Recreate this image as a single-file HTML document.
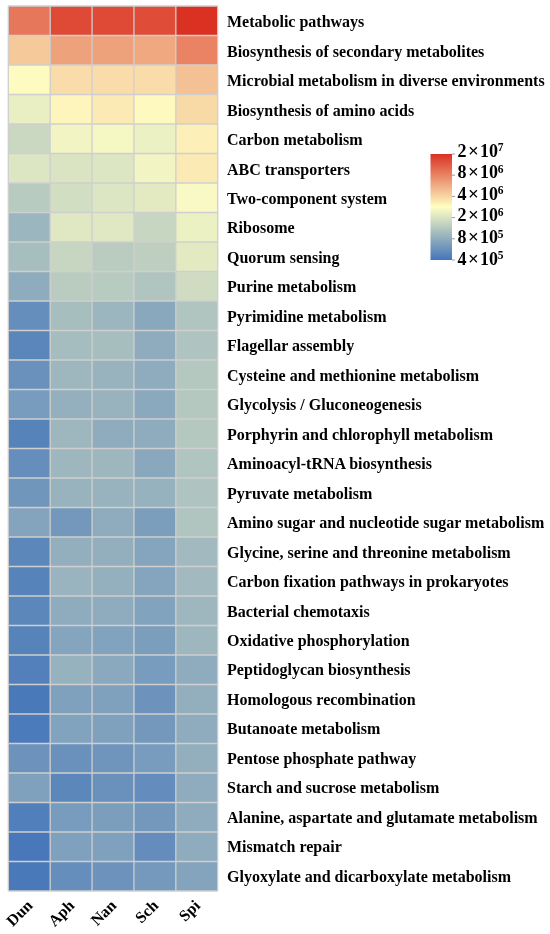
<!DOCTYPE html>
<html><head><meta charset="utf-8"><style>
html,body{margin:0;padding:0;background:#fff;width:550px;height:934px;overflow:hidden}
svg{display:block;will-change:transform}
</style></head><body>
<svg width="550" height="934" viewBox="0 0 550 934">
<g shape-rendering="crispEdges"><rect x="8.30" y="6.00" width="41.88" height="29.50" fill="#e7775a"/><rect x="50.18" y="6.00" width="41.88" height="29.50" fill="#de4a36"/><rect x="92.06" y="6.00" width="41.88" height="29.50" fill="#de4a36"/><rect x="133.94" y="6.00" width="41.88" height="29.50" fill="#df4c38"/><rect x="175.82" y="6.00" width="41.88" height="29.50" fill="#da3123"/><rect x="8.30" y="35.50" width="41.88" height="29.50" fill="#f5c99a"/><rect x="50.18" y="35.50" width="41.88" height="29.50" fill="#eea27c"/><rect x="92.06" y="35.50" width="41.88" height="29.50" fill="#eea27c"/><rect x="133.94" y="35.50" width="41.88" height="29.50" fill="#efa880"/><rect x="175.82" y="35.50" width="41.88" height="29.50" fill="#e98363"/><rect x="8.30" y="65.00" width="41.88" height="29.50" fill="#fefbc1"/><rect x="50.18" y="65.00" width="41.88" height="29.50" fill="#f9dca9"/><rect x="92.06" y="65.00" width="41.88" height="29.50" fill="#f9dca9"/><rect x="133.94" y="65.00" width="41.88" height="29.50" fill="#f9dca9"/><rect x="175.82" y="65.00" width="41.88" height="29.50" fill="#f4c194"/><rect x="8.30" y="94.50" width="41.88" height="29.50" fill="#e9eec3"/><rect x="50.18" y="94.50" width="41.88" height="29.50" fill="#fdf5bc"/><rect x="92.06" y="94.50" width="41.88" height="29.50" fill="#fbeab4"/><rect x="133.94" y="94.50" width="41.88" height="29.50" fill="#fef9bf"/><rect x="175.82" y="94.50" width="41.88" height="29.50" fill="#f8daa7"/><rect x="8.30" y="124.00" width="41.88" height="29.50" fill="#cbd8c1"/><rect x="50.18" y="124.00" width="41.88" height="29.50" fill="#f2f5c3"/><rect x="92.06" y="124.00" width="41.88" height="29.50" fill="#f6f8c4"/><rect x="133.94" y="124.00" width="41.88" height="29.50" fill="#ecf1c3"/><rect x="175.82" y="124.00" width="41.88" height="29.50" fill="#fcefb7"/><rect x="8.30" y="153.50" width="41.88" height="29.50" fill="#dde6c2"/><rect x="50.18" y="153.50" width="41.88" height="29.50" fill="#dae3c2"/><rect x="92.06" y="153.50" width="41.88" height="29.50" fill="#dde6c2"/><rect x="133.94" y="153.50" width="41.88" height="29.50" fill="#f2f5c3"/><rect x="175.82" y="153.50" width="41.88" height="29.50" fill="#fbeab4"/><rect x="8.30" y="183.00" width="41.88" height="29.50" fill="#b8cbc0"/><rect x="50.18" y="183.00" width="41.88" height="29.50" fill="#d2dec2"/><rect x="92.06" y="183.00" width="41.88" height="29.50" fill="#dde6c2"/><rect x="133.94" y="183.00" width="41.88" height="29.50" fill="#e3eac2"/><rect x="175.82" y="183.00" width="41.88" height="29.50" fill="#f8f9c4"/><rect x="8.30" y="212.50" width="41.88" height="29.50" fill="#9cb6bf"/><rect x="50.18" y="212.50" width="41.88" height="29.50" fill="#dfe8c2"/><rect x="92.06" y="212.50" width="41.88" height="29.50" fill="#dfe8c2"/><rect x="133.94" y="212.50" width="41.88" height="29.50" fill="#c7d6c1"/><rect x="175.82" y="212.50" width="41.88" height="29.50" fill="#ecf1c3"/><rect x="8.30" y="242.00" width="41.88" height="29.50" fill="#a7bebf"/><rect x="50.18" y="242.00" width="41.88" height="29.50" fill="#c7d6c1"/><rect x="92.06" y="242.00" width="41.88" height="29.50" fill="#baccc0"/><rect x="133.94" y="242.00" width="41.88" height="29.50" fill="#becfc0"/><rect x="175.82" y="242.00" width="41.88" height="29.50" fill="#e3eac2"/><rect x="8.30" y="271.50" width="41.88" height="29.50" fill="#8facbe"/><rect x="50.18" y="271.50" width="41.88" height="29.50" fill="#baccc0"/><rect x="92.06" y="271.50" width="41.88" height="29.50" fill="#b8cbc0"/><rect x="133.94" y="271.50" width="41.88" height="29.50" fill="#b0c5c0"/><rect x="175.82" y="271.50" width="41.88" height="29.50" fill="#d0dcc2"/><rect x="8.30" y="301.00" width="41.88" height="29.50" fill="#668ebc"/><rect x="50.18" y="301.00" width="41.88" height="29.50" fill="#a7bebf"/><rect x="92.06" y="301.00" width="41.88" height="29.50" fill="#9cb6bf"/><rect x="133.94" y="301.00" width="41.88" height="29.50" fill="#89a8be"/><rect x="175.82" y="301.00" width="41.88" height="29.50" fill="#b0c5c0"/><rect x="8.30" y="330.50" width="41.88" height="29.50" fill="#5a86bb"/><rect x="50.18" y="330.50" width="41.88" height="29.50" fill="#a5bdbf"/><rect x="92.06" y="330.50" width="41.88" height="29.50" fill="#a7bebf"/><rect x="133.94" y="330.50" width="41.88" height="29.50" fill="#8facbe"/><rect x="175.82" y="330.50" width="41.88" height="29.50" fill="#afc4c0"/><rect x="8.30" y="360.00" width="41.88" height="29.50" fill="#6991bc"/><rect x="50.18" y="360.00" width="41.88" height="29.50" fill="#9eb7bf"/><rect x="92.06" y="360.00" width="41.88" height="29.50" fill="#98b3be"/><rect x="133.94" y="360.00" width="41.88" height="29.50" fill="#8facbe"/><rect x="175.82" y="360.00" width="41.88" height="29.50" fill="#b4c8c0"/><rect x="8.30" y="389.50" width="41.88" height="29.50" fill="#789cbd"/><rect x="50.18" y="389.50" width="41.88" height="29.50" fill="#94b0be"/><rect x="92.06" y="389.50" width="41.88" height="29.50" fill="#98b3be"/><rect x="133.94" y="389.50" width="41.88" height="29.50" fill="#8ba9be"/><rect x="175.82" y="389.50" width="41.88" height="29.50" fill="#b4c8c0"/><rect x="8.30" y="419.00" width="41.88" height="29.50" fill="#5783bb"/><rect x="50.18" y="419.00" width="41.88" height="29.50" fill="#9eb7bf"/><rect x="92.06" y="419.00" width="41.88" height="29.50" fill="#8facbe"/><rect x="133.94" y="419.00" width="41.88" height="29.50" fill="#8facbe"/><rect x="175.82" y="419.00" width="41.88" height="29.50" fill="#b4c8c0"/><rect x="8.30" y="448.50" width="41.88" height="29.50" fill="#668ebc"/><rect x="50.18" y="448.50" width="41.88" height="29.50" fill="#9eb7bf"/><rect x="92.06" y="448.50" width="41.88" height="29.50" fill="#9eb7bf"/><rect x="133.94" y="448.50" width="41.88" height="29.50" fill="#89a8be"/><rect x="175.82" y="448.50" width="41.88" height="29.50" fill="#b0c5c0"/><rect x="8.30" y="478.00" width="41.88" height="29.50" fill="#7196bc"/><rect x="50.18" y="478.00" width="41.88" height="29.50" fill="#98b3be"/><rect x="92.06" y="478.00" width="41.88" height="29.50" fill="#98b3be"/><rect x="133.94" y="478.00" width="41.88" height="29.50" fill="#96b2be"/><rect x="175.82" y="478.00" width="41.88" height="29.50" fill="#afc4c0"/><rect x="8.30" y="507.50" width="41.88" height="29.50" fill="#84a4bd"/><rect x="50.18" y="507.50" width="41.88" height="29.50" fill="#7398bc"/><rect x="92.06" y="507.50" width="41.88" height="29.50" fill="#8facbe"/><rect x="133.94" y="507.50" width="41.88" height="29.50" fill="#7c9ebd"/><rect x="175.82" y="507.50" width="41.88" height="29.50" fill="#b0c5c0"/><rect x="8.30" y="537.00" width="41.88" height="29.50" fill="#5c87bb"/><rect x="50.18" y="537.00" width="41.88" height="29.50" fill="#93afbe"/><rect x="92.06" y="537.00" width="41.88" height="29.50" fill="#93afbe"/><rect x="133.94" y="537.00" width="41.88" height="29.50" fill="#85a5be"/><rect x="175.82" y="537.00" width="41.88" height="29.50" fill="#a2babf"/><rect x="8.30" y="566.50" width="41.88" height="29.50" fill="#5783bb"/><rect x="50.18" y="566.50" width="41.88" height="29.50" fill="#9ab4bf"/><rect x="92.06" y="566.50" width="41.88" height="29.50" fill="#94b0be"/><rect x="133.94" y="566.50" width="41.88" height="29.50" fill="#85a5be"/><rect x="175.82" y="566.50" width="41.88" height="29.50" fill="#a2babf"/><rect x="8.30" y="596.00" width="41.88" height="29.50" fill="#5c87bb"/><rect x="50.18" y="596.00" width="41.88" height="29.50" fill="#8facbe"/><rect x="92.06" y="596.00" width="41.88" height="29.50" fill="#8facbe"/><rect x="133.94" y="596.00" width="41.88" height="29.50" fill="#82a3bd"/><rect x="175.82" y="596.00" width="41.88" height="29.50" fill="#9eb7bf"/><rect x="8.30" y="625.50" width="41.88" height="29.50" fill="#5783bb"/><rect x="50.18" y="625.50" width="41.88" height="29.50" fill="#85a5be"/><rect x="92.06" y="625.50" width="41.88" height="29.50" fill="#82a3bd"/><rect x="133.94" y="625.50" width="41.88" height="29.50" fill="#7c9ebd"/><rect x="175.82" y="625.50" width="41.88" height="29.50" fill="#9eb7bf"/><rect x="8.30" y="655.00" width="41.88" height="29.50" fill="#5380bb"/><rect x="50.18" y="655.00" width="41.88" height="29.50" fill="#96b2be"/><rect x="92.06" y="655.00" width="41.88" height="29.50" fill="#8ba9be"/><rect x="133.94" y="655.00" width="41.88" height="29.50" fill="#789cbd"/><rect x="175.82" y="655.00" width="41.88" height="29.50" fill="#8facbe"/><rect x="8.30" y="684.50" width="41.88" height="29.50" fill="#4a79ba"/><rect x="50.18" y="684.50" width="41.88" height="29.50" fill="#80a1bd"/><rect x="92.06" y="684.50" width="41.88" height="29.50" fill="#80a1bd"/><rect x="133.94" y="684.50" width="41.88" height="29.50" fill="#6d93bc"/><rect x="175.82" y="684.50" width="41.88" height="29.50" fill="#93afbe"/><rect x="8.30" y="714.00" width="41.88" height="29.50" fill="#4b7bba"/><rect x="50.18" y="714.00" width="41.88" height="29.50" fill="#82a3bd"/><rect x="92.06" y="714.00" width="41.88" height="29.50" fill="#80a1bd"/><rect x="133.94" y="714.00" width="41.88" height="29.50" fill="#7398bc"/><rect x="175.82" y="714.00" width="41.88" height="29.50" fill="#8facbe"/><rect x="8.30" y="743.50" width="41.88" height="29.50" fill="#6d93bc"/><rect x="50.18" y="743.50" width="41.88" height="29.50" fill="#6991bc"/><rect x="92.06" y="743.50" width="41.88" height="29.50" fill="#6f95bc"/><rect x="133.94" y="743.50" width="41.88" height="29.50" fill="#789cbd"/><rect x="175.82" y="743.50" width="41.88" height="29.50" fill="#93afbe"/><rect x="8.30" y="773.00" width="41.88" height="29.50" fill="#80a1bd"/><rect x="50.18" y="773.00" width="41.88" height="29.50" fill="#5c87bb"/><rect x="92.06" y="773.00" width="41.88" height="29.50" fill="#6991bc"/><rect x="133.94" y="773.00" width="41.88" height="29.50" fill="#648cbc"/><rect x="175.82" y="773.00" width="41.88" height="29.50" fill="#8facbe"/><rect x="8.30" y="802.50" width="41.88" height="29.50" fill="#517fbb"/><rect x="50.18" y="802.50" width="41.88" height="29.50" fill="#789cbd"/><rect x="92.06" y="802.50" width="41.88" height="29.50" fill="#7c9ebd"/><rect x="133.94" y="802.50" width="41.88" height="29.50" fill="#7398bc"/><rect x="175.82" y="802.50" width="41.88" height="29.50" fill="#8facbe"/><rect x="8.30" y="832.00" width="41.88" height="29.50" fill="#4878ba"/><rect x="50.18" y="832.00" width="41.88" height="29.50" fill="#80a1bd"/><rect x="92.06" y="832.00" width="41.88" height="29.50" fill="#80a1bd"/><rect x="133.94" y="832.00" width="41.88" height="29.50" fill="#648cbc"/><rect x="175.82" y="832.00" width="41.88" height="29.50" fill="#8facbe"/><rect x="8.30" y="861.50" width="41.88" height="29.50" fill="#4a79ba"/><rect x="50.18" y="861.50" width="41.88" height="29.50" fill="#668ebc"/><rect x="92.06" y="861.50" width="41.88" height="29.50" fill="#6d93bc"/><rect x="133.94" y="861.50" width="41.88" height="29.50" fill="#7599bd"/><rect x="175.82" y="861.50" width="41.88" height="29.50" fill="#84a4bd"/></g>
<g stroke="#cfcfcf" stroke-width="1.3"><line x1="8.3" y1="6.00" x2="217.70000000000002" y2="6.00"/><line x1="8.3" y1="35.50" x2="217.70000000000002" y2="35.50"/><line x1="8.3" y1="65.00" x2="217.70000000000002" y2="65.00"/><line x1="8.3" y1="94.50" x2="217.70000000000002" y2="94.50"/><line x1="8.3" y1="124.00" x2="217.70000000000002" y2="124.00"/><line x1="8.3" y1="153.50" x2="217.70000000000002" y2="153.50"/><line x1="8.3" y1="183.00" x2="217.70000000000002" y2="183.00"/><line x1="8.3" y1="212.50" x2="217.70000000000002" y2="212.50"/><line x1="8.3" y1="242.00" x2="217.70000000000002" y2="242.00"/><line x1="8.3" y1="271.50" x2="217.70000000000002" y2="271.50"/><line x1="8.3" y1="301.00" x2="217.70000000000002" y2="301.00"/><line x1="8.3" y1="330.50" x2="217.70000000000002" y2="330.50"/><line x1="8.3" y1="360.00" x2="217.70000000000002" y2="360.00"/><line x1="8.3" y1="389.50" x2="217.70000000000002" y2="389.50"/><line x1="8.3" y1="419.00" x2="217.70000000000002" y2="419.00"/><line x1="8.3" y1="448.50" x2="217.70000000000002" y2="448.50"/><line x1="8.3" y1="478.00" x2="217.70000000000002" y2="478.00"/><line x1="8.3" y1="507.50" x2="217.70000000000002" y2="507.50"/><line x1="8.3" y1="537.00" x2="217.70000000000002" y2="537.00"/><line x1="8.3" y1="566.50" x2="217.70000000000002" y2="566.50"/><line x1="8.3" y1="596.00" x2="217.70000000000002" y2="596.00"/><line x1="8.3" y1="625.50" x2="217.70000000000002" y2="625.50"/><line x1="8.3" y1="655.00" x2="217.70000000000002" y2="655.00"/><line x1="8.3" y1="684.50" x2="217.70000000000002" y2="684.50"/><line x1="8.3" y1="714.00" x2="217.70000000000002" y2="714.00"/><line x1="8.3" y1="743.50" x2="217.70000000000002" y2="743.50"/><line x1="8.3" y1="773.00" x2="217.70000000000002" y2="773.00"/><line x1="8.3" y1="802.50" x2="217.70000000000002" y2="802.50"/><line x1="8.3" y1="832.00" x2="217.70000000000002" y2="832.00"/><line x1="8.3" y1="861.50" x2="217.70000000000002" y2="861.50"/><line x1="8.3" y1="891.00" x2="217.70000000000002" y2="891.00"/><line x1="8.30" y1="6" x2="8.30" y2="891.00"/><line x1="50.18" y1="6" x2="50.18" y2="891.00"/><line x1="92.06" y1="6" x2="92.06" y2="891.00"/><line x1="133.94" y1="6" x2="133.94" y2="891.00"/><line x1="175.82" y1="6" x2="175.82" y2="891.00"/><line x1="217.70" y1="6" x2="217.70" y2="891.00"/></g>
<g font-family="Liberation Serif, serif" font-weight="bold" font-size="16" fill="#000"><text x="227" y="27.15">Metabolic pathways</text><text x="227" y="56.62">Biosynthesis of secondary metabolites</text><text x="227" y="86.09">Microbial metabolism in diverse environments</text><text x="227" y="115.56">Biosynthesis of amino acids</text><text x="227" y="145.03">Carbon metabolism</text><text x="227" y="174.50">ABC transporters</text><text x="227" y="203.97">Two-component system</text><text x="227" y="233.44">Ribosome</text><text x="227" y="262.91">Quorum sensing</text><text x="227" y="292.38">Purine metabolism</text><text x="227" y="321.85">Pyrimidine metabolism</text><text x="227" y="351.32">Flagellar assembly</text><text x="227" y="380.79">Cysteine and methionine metabolism</text><text x="227" y="410.26">Glycolysis / Gluconeogenesis</text><text x="227" y="439.73">Porphyrin and chlorophyll metabolism</text><text x="227" y="469.20">Aminoacyl-tRNA biosynthesis</text><text x="227" y="498.67">Pyruvate metabolism</text><text x="227" y="528.14">Amino sugar and nucleotide sugar metabolism</text><text x="227" y="557.61">Glycine, serine and threonine metabolism</text><text x="227" y="587.08">Carbon fixation pathways in prokaryotes</text><text x="227" y="616.55">Bacterial chemotaxis</text><text x="227" y="646.02">Oxidative phosphorylation</text><text x="227" y="675.49">Peptidoglycan biosynthesis</text><text x="227" y="704.96">Homologous recombination</text><text x="227" y="734.43">Butanoate metabolism</text><text x="227" y="763.90">Pentose phosphate pathway</text><text x="227" y="793.37">Starch and sucrose metabolism</text><text x="227" y="822.84">Alanine, aspartate and glutamate metabolism</text><text x="227" y="852.31">Mismatch repair</text><text x="227" y="881.78">Glyoxylate and dicarboxylate metabolism</text></g>
<g font-family="Liberation Serif, serif" font-weight="bold" font-size="16" fill="#000"><text transform="translate(33.54,906.50) rotate(-45)" text-anchor="end">Dun</text><text transform="translate(75.42,906.50) rotate(-45)" text-anchor="end">Aph</text><text transform="translate(117.30,906.50) rotate(-45)" text-anchor="end">Nan</text><text transform="translate(159.18,906.50) rotate(-45)" text-anchor="end">Sch</text><text transform="translate(201.06,906.50) rotate(-45)" text-anchor="end">Spi</text></g>
<defs><linearGradient id="lg" x1="0" y1="0" x2="0" y2="1"><stop offset="0.000" stop-color="#da3123"/><stop offset="0.050" stop-color="#de4633"/><stop offset="0.100" stop-color="#e15a43"/><stop offset="0.150" stop-color="#e56f53"/><stop offset="0.200" stop-color="#e98363"/><stop offset="0.250" stop-color="#ec9874"/><stop offset="0.300" stop-color="#f0ad84"/><stop offset="0.350" stop-color="#f4c194"/><stop offset="0.400" stop-color="#f8d6a4"/><stop offset="0.450" stop-color="#fbeab4"/><stop offset="0.500" stop-color="#ffffc4"/><stop offset="0.550" stop-color="#ecf1c3"/><stop offset="0.600" stop-color="#dae3c2"/><stop offset="0.650" stop-color="#c7d6c1"/><stop offset="0.700" stop-color="#b4c8c0"/><stop offset="0.750" stop-color="#a2babf"/><stop offset="0.800" stop-color="#8facbe"/><stop offset="0.850" stop-color="#7c9ebd"/><stop offset="0.900" stop-color="#6991bc"/><stop offset="0.950" stop-color="#5783bb"/><stop offset="1.000" stop-color="#4475ba"/></linearGradient></defs>
<rect x="430.5" y="154" width="21.5" height="106" fill="url(#lg)"/>
<g stroke="#999" stroke-width="1"><line x1="452.0" y1="154.00" x2="455.0" y2="154.00"/><line x1="452.0" y1="175.20" x2="455.0" y2="175.20"/><line x1="452.0" y1="196.40" x2="455.0" y2="196.40"/><line x1="452.0" y1="217.60" x2="455.0" y2="217.60"/><line x1="452.0" y1="238.80" x2="455.0" y2="238.80"/><line x1="452.0" y1="260.00" x2="455.0" y2="260.00"/></g>
<g font-family="Liberation Serif, serif" font-weight="bold" font-size="18" fill="#000"><text y="156.60"><tspan x="457.6">2</tspan><tspan x="467.9" font-size="19">×</tspan><tspan x="480">10</tspan><tspan x="497.8" dy="-5.5" font-size="11.5">7</tspan></text><text y="178.20"><tspan x="457.6">8</tspan><tspan x="467.9" font-size="19">×</tspan><tspan x="480">10</tspan><tspan x="497.8" dy="-5.5" font-size="11.5">6</tspan></text><text y="199.80"><tspan x="457.6">4</tspan><tspan x="467.9" font-size="19">×</tspan><tspan x="480">10</tspan><tspan x="497.8" dy="-5.5" font-size="11.5">6</tspan></text><text y="221.40"><tspan x="457.6">2</tspan><tspan x="467.9" font-size="19">×</tspan><tspan x="480">10</tspan><tspan x="497.8" dy="-5.5" font-size="11.5">6</tspan></text><text y="243.00"><tspan x="457.6">8</tspan><tspan x="467.9" font-size="19">×</tspan><tspan x="480">10</tspan><tspan x="497.8" dy="-5.5" font-size="11.5">5</tspan></text><text y="264.60"><tspan x="457.6">4</tspan><tspan x="467.9" font-size="19">×</tspan><tspan x="480">10</tspan><tspan x="497.8" dy="-5.5" font-size="11.5">5</tspan></text></g>
</svg>
</body></html>
